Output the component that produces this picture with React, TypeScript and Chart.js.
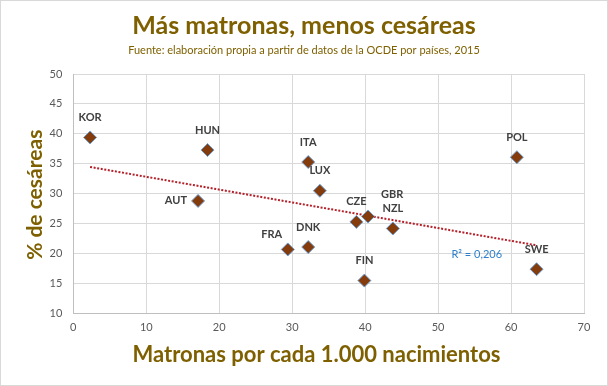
import React, { useEffect, useRef } from 'react';
import { Chart, registerables } from 'chart.js';

Chart.register(...registerables);

// ---- data ----
const countries = ['KOR', 'HUN', 'ITA', 'LUX', 'AUT', 'FRA', 'DNK', 'CZE', 'GBR', 'NZL', 'FIN', 'POL', 'SWE'];
const midwivesPer1000 = [2.3, 18.4, 32.2, 33.8, 17.1, 29.4, 32.2, 38.8, 40.4, 43.8, 39.9, 60.8, 63.5];
const cesareanPct = [39.4, 37.3, 35.3, 30.5, 28.8, 20.7, 21.1, 25.3, 26.2, 24.2, 15.5, 36.1, 17.4];
const xAxisMin = 0;
const xAxisMax = 70;
const xStep = 10;
const yAxisMin = 10;
const yAxisMax = 50;
const yStep = 5;

const titleText = 'Más matronas, menos cesáreas';
const subtitleText = 'Fuente: elaboración propia a partir de datos de la OCDE por países, 2015';
const xTitleText = 'Matronas por cada 1.000 nacimientos';
const yTitleText = '% de cesáreas';
const r2Text = 'R² = 0,206';

// label placement (pixel offsets from point) – style only
const labelOffsets: Record<string, [number, number, CanvasTextAlign]> = {
  AUT: [-11, 0, 'right'],
  FRA: [-16, -15, 'center'],
  GBR: [24, -22, 'center'],
};

const FONT = 'Lato, "Open Sans", sans-serif';
const GOLD = '#7f6000';

function linearFit(xs: number[], ys: number[]) {
  const n = xs.length;
  const mx = xs.reduce((a, b) => a + b, 0) / n;
  const my = ys.reduce((a, b) => a + b, 0) / n;
  let sxy = 0, sxx = 0;
  for (let i = 0; i < n; i++) {
    sxy += (xs[i] - mx) * (ys[i] - my);
    sxx += (xs[i] - mx) * (xs[i] - mx);
  }
  const slope = sxy / sxx;
  return { slope, intercept: my - slope * mx };
}

const decorPlugin = {
  id: 'decor',
  afterDatasetsDraw(chart: any) {
    const { ctx, scales } = chart;
    const xs = scales.x, ys = scales.y;
    ctx.save();
    ctx.font = `bold 11px ${FONT}`;
    ctx.fillStyle = '#404040';
    ctx.textBaseline = 'middle';
    countries.forEach((c, i) => {
      const px = xs.getPixelForValue(midwivesPer1000[i]);
      const py = ys.getPixelForValue(cesareanPct[i]);
      const off = labelOffsets[c] || [0, -20, 'center'];
      ctx.textAlign = off[2];
      ctx.fillText(c, px + off[0], py + off[1]);
    });
    ctx.font = `11px ${FONT}`;
    ctx.fillStyle = '#2f80cc';
    ctx.textAlign = 'center';
    ctx.fillText(r2Text, xs.getPixelForValue(55.3), ys.getPixelForValue(19.8));
    ctx.restore();
  },
  afterDraw(chart: any) {
    const { ctx, width, height, chartArea } = chart;
    ctx.save();
    ctx.fillStyle = GOLD;
    ctx.textAlign = 'center';
    ctx.textBaseline = 'alphabetic';
    ctx.font = `bold 25px ${FONT}`;
    ctx.fillText(titleText, width / 2, 34);
    ctx.font = `11px ${FONT}`;
    ctx.fillText(subtitleText, width / 2, 54);
    ctx.font = `bold 22px ${FONT}`;
    ctx.fillText(xTitleText, 316.5, 362);
    ctx.save();
    ctx.font = `bold 21px ${FONT}`;
    ctx.translate(41.5, (chartArea.top + chartArea.bottom) / 2 + 1);
    ctx.rotate(-Math.PI / 2);
    ctx.fillText(yTitleText, 0, 0);
    ctx.restore();
    ctx.strokeStyle = '#d9d9d9';
    ctx.lineWidth = 1;
    ctx.strokeRect(0.5, 0.5, width - 1, height - 1);
    ctx.restore();
  },
};

export default function App() {
  const ref = useRef<HTMLCanvasElement>(null);
  useEffect(() => {
    document.body.style.margin = '0';
    const fit = linearFit(midwivesPer1000, cesareanPct);
    const xMin = Math.min(...midwivesPer1000);
    const xMax = Math.max(...midwivesPer1000);
    const chart = new Chart(ref.current!, {
      type: 'scatter',
      data: {
        datasets: [
          {
            label: 'Países',
            data: midwivesPer1000.map((x, i) => ({ x, y: cesareanPct[i] })),
            pointStyle: 'rectRot',
            pointRadius: 6.5,
            pointBackgroundColor: '#843c0c',
            pointBorderColor: '#6ea0d8',
            pointBorderWidth: 1,
            order: 1,
          },
          {
            type: 'line',
            label: 'Tendencia',
            data: [
              { x: xMin, y: fit.intercept + fit.slope * xMin },
              { x: xMax, y: fit.intercept + fit.slope * xMax },
            ],
            borderColor: '#b4202a',
            borderWidth: 2,
            borderDash: [2, 1.6],
            pointRadius: 0,
            fill: false,
            order: 2,
          } as any,
        ],
      },
      options: {
        animation: false,
        responsive: false,
        layout: { padding: { left: 0, top: 74, right: 24, bottom: 0 } },
        plugins: {
          legend: { display: false },
          tooltip: { enabled: false },
          title: { display: false },
        },
        scales: {
          x: {
            type: 'linear',
            min: xAxisMin,
            max: xAxisMax,
            ticks: { stepSize: xStep, color: '#595959', font: { family: FONT, size: 11 }, padding: 7 },
            grid: { color: '#d9d9d9', drawTicks: false },
            border: { color: '#bfbfbf' },
            afterFit: (s: any) => { s.height = 72.5; },
          },
          y: {
            type: 'linear',
            min: yAxisMin,
            max: yAxisMax,
            ticks: { stepSize: yStep, color: '#595959', font: { family: FONT, size: 11 }, padding: 11 },
            grid: { color: '#d9d9d9', drawTicks: false },
            border: { color: '#bfbfbf' },
            afterFit: (s: any) => { s.width = 73.3; },
          },
        },
      },
      plugins: [decorPlugin],
    });
    return () => chart.destroy();
  }, []);
  return (
    <div style={{ width: 608, height: 386, background: '#fff' }}>
      <canvas ref={ref} width={608} height={386} />
    </div>
  );
}
